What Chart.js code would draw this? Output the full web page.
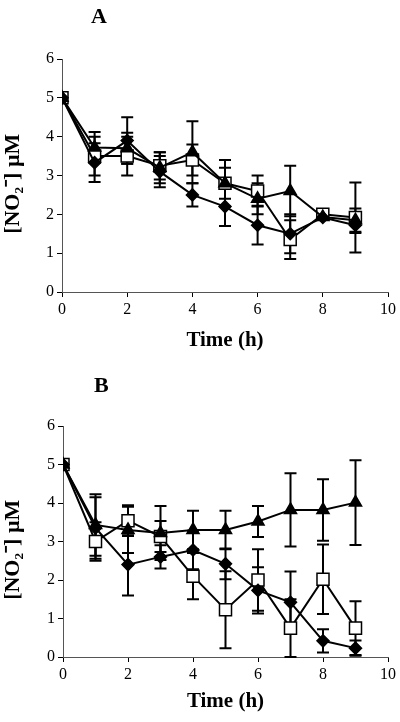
<!DOCTYPE html>
<html lang="en">
<head>
  <meta charset="UTF-8">
  <title>Nitrite time course</title>
  <script src="https://cdn.jsdelivr.net/npm/chart.js"></script>
  <style>
    body { margin: 0; background: #fff; }
    .panel { position: relative; width: 400px; height: 361px; }
    .tag { position: absolute; font: bold 22px "Liberation Serif", serif; }
  </style>
</head>
<body>
  <div class="panel"><canvas id="chartA" width="400" height="361"></canvas><div class="tag" style="left:91px;top:3px">A</div></div>
  <div class="panel"><canvas id="chartB" width="400" height="361"></canvas><div class="tag" style="left:94px;top:11px">B</div></div>

  <script>
    // hours
    const horas = [0, 1, 2, 3, 4, 5, 6, 7, 8, 9];

    // panel A
    const rombosA = [5, 3.33, 3.9, 3.1, 2.5, 2.2, 1.72, 1.5, 1.92, 1.72];
    const rombosErrA = [0, 0.5, 0.6, 0.4, 0.3, 0.5, 0.5, 0.5, 0.05, 0.2];
    const cuadrosA = [5, 3.5, 3.5, 3.25, 3.4, 2.8, 2.6, 1.35, 2.0, 1.92];
    const cuadrosErrA = [0, 0.5, 0.5, 0.35, 0.4, 0.6, 0.4, 0.5, 0.05, 0.9];
    const triangulosA = [5, 3.72, 3.7, 3.2, 3.6, 2.8, 2.4, 2.6, 1.93, 1.85];
    const triangulosErrA = [0, 0.4, 0.4, 0.4, 0.8, 0.4, 0.4, 0.65, 0.05, 0.3];

    // panel B
    const rombosB = [5, 3.35, 2.4, 2.6, 2.78, 2.42, 1.73, 1.42, 0.42, 0.23];
    const rombosErrB = [0, 0.8, 0.8, 0.3, 0.5, 0.4, 0.6, 0.8, 0.3, 0.2];
    const cuadrosB = [5, 3.0, 3.54, 3.13, 2.1, 1.23, 2.0, 0.75, 2.02, 0.75];
    const cuadrosErrB = [0, 0.5, 0.4, 0.4, 0.6, 1.0, 0.8, 0.75, 0.9, 0.7];
    const triangulosB = [5, 3.43, 3.3, 3.22, 3.3, 3.3, 3.52, 3.82, 3.82, 4.01];
    const triangulosErrB = [0, 0.8, 0.6, 0.7, 0.5, 0.5, 0.4, 0.95, 0.8, 1.1];

    const yTicks = [0, 1, 2, 3, 4, 5, 6];
    const xTicks = [0, 2, 4, 6, 8, 10];

    const serif = '"Liberation Serif", "Times New Roman", serif';

    // draws the vertical error bars under the markers
    const barrasError = {
      id: 'barrasError',
      beforeDatasetsDraw(chart) {
        const ctx = chart.ctx;
        const x = chart.scales.x, y = chart.scales.y;
        ctx.save();
        ctx.strokeStyle = '#000';
        ctx.lineWidth = 2;
        chart.data.datasets.forEach(ds => {
          ds.data.forEach((p, i) => {
            const e = ds.errores[i];
            if (!e) return;
            const px = x.getPixelForValue(p.x);
            const top = y.getPixelForValue(p.y + e);
            const bot = y.getPixelForValue(Math.max(0, p.y - e));
            ctx.beginPath();
            ctx.moveTo(px, top); ctx.lineTo(px, bot);
            ctx.moveTo(px - 6, top); ctx.lineTo(px + 6, top);
            ctx.moveTo(px - 6, bot); ctx.lineTo(px + 6, bot);
            ctx.stroke();
          });
        });
        ctx.restore();
      }
    };

    function serie(valores, errores, estilo, relleno, radio) {
      return {
        data: horas.map((h, i) => ({ x: h, y: valores[i] })),
        errores: errores,
        borderColor: '#000',
        borderWidth: 2,
        pointStyle: estilo,
        pointRadius: radio,
        pointBackgroundColor: relleno,
        pointBorderColor: '#000',
        pointBorderWidth: 1.5,
        fill: false,
        tension: 0
      };
    }

    function grafica(id, sets, pad) {
      new Chart(document.getElementById(id), {
        type: 'line',
        data: { datasets: sets },
        plugins: [barrasError],
        options: {
          responsive: false,
          animation: false,
          layout: { padding: { top: pad.top, right: 12, bottom: 4, left: 0 } },
          plugins: { legend: { display: false }, tooltip: { enabled: false } },
          scales: {
            x: {
              type: 'linear', min: 0, max: 10,
              afterBuildTicks: s => { s.ticks = xTicks.map(v => ({ value: v })); },
              afterFit: s => { s.height = pad.xh; },
              grid: { drawOnChartArea: false, drawTicks: true, tickLength: 5, color: '#000' },
              border: { display: true, color: '#555', width: 1 },
              ticks: { color: '#000', font: { family: serif, size: 16 }, padding: 3, maxRotation: 0 },
              title: { display: true, text: 'Time (h)', color: '#000', font: { family: serif, size: 21, weight: 'bold' }, padding: { top: 0, bottom: 4 } }
            },
            y: {
              min: 0, max: 6,
              afterBuildTicks: s => { s.ticks = yTicks.map(v => ({ value: v })); },
              afterFit: s => { s.width = pad.left; },
              grid: { drawOnChartArea: false, drawTicks: true, tickLength: 5, color: '#000' },
              border: { display: true, color: '#555', width: 1 },
              ticks: { color: '#000', font: { family: serif, size: 16 }, padding: 3 },
              title: { display: true, text: '[NO\u2082\u207B] \u00B5M\u00A0\u00A0\u00A0', color: '#000', font: { family: serif, size: 22, weight: 'bold' }, padding: { top: 0, bottom: 0 } }
            }
          }
        }
      });
    }

    grafica('chartA', [
      serie(rombosA, rombosErrA, 'rectRot', '#000', 6),
      serie(triangulosA, triangulosErrA, 'triangle', '#000', 7),
      serie(cuadrosA, cuadrosErrA, 'rect', '#fff', 8.5)
    ], { top: 59, xh: 65, left: 62 });

    grafica('chartB', [
      serie(rombosB, rombosErrB, 'rectRot', '#000', 6),
      serie(triangulosB, triangulosErrB, 'triangle', '#000', 7),
      serie(cuadrosB, cuadrosErrB, 'rect', '#fff', 8.5)
    ], { top: 65, xh: 61, left: 63 });
  </script>
</body>
</html>
